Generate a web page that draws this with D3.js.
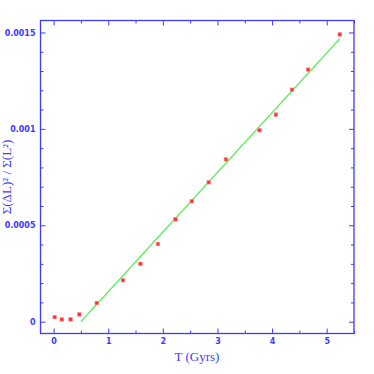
<!DOCTYPE html>
<html>
<head>
<meta charset="utf-8">
<script src="https://cdn.jsdelivr.net/npm/d3@7"></script>
<style>
  body { margin: 0; background: #fff; }
  svg { display: block; }
</style>
</head>
<body>
<svg width="374" height="374"></svg>
<script>
// data
const times = [0.02, 0.15, 0.31, 0.47, 0.79, 1.27, 1.59, 1.91, 2.23, 2.53, 2.84, 3.155, 3.77, 4.07, 4.365, 4.66, 5.24]
const ratios = [0.000024, 0.000012, 0.000012, 0.000038, 0.000097, 0.000215, 0.0003, 0.000403, 0.000531, 0.000625, 0.000723, 0.000842, 0.000993, 0.001074, 0.001203, 0.001307, 0.00149]
const fitT = [0.5, 5.24]
const fitY = [0, 0.001468]
const xTicks = [0, 1, 2, 3, 4, 5]
const yTicks = [0, 0.0005, 0.001, 0.0015]
const yTickLabels = ['0', '0.0005', '0.001', '0.0015']

const svg = d3.select('svg')
const blue = '#3c3cff'

// plot frame edges
const fLeft = 40.5, fRight = 354, fTop = 20.5, fBottom = 333.5

const x = d3.scaleLinear().domain([-0.24, 5.5]).range([fLeft, fRight])
const y = d3.scaleLinear().domain([-0.0000612, 0.001562]).range([fBottom, fTop])

// frame
svg.append('rect')
    .attr('x', fLeft).attr('y', fTop)
    .attr('width', fRight - fLeft).attr('height', fBottom - fTop)
    .attr('fill', 'none').attr('stroke', blue).attr('stroke-width', 1.3)

const xMinor = d3.range(0, 5.51, 0.5).filter(v => xTicks.indexOf(v) < 0)
const yMinor = d3.range(0, 0.00156, 0.0001).filter((v, i) => i % 5 != 0)

// axes with inward ticks, the library draws them
function styleAxis(g) {
    g.select('.domain').remove()
    g.selectAll('line').attr('stroke', blue)
    g.selectAll('text').attr('fill', blue)
        .style('font-family', '"DejaVu Sans", sans-serif')
        .style('font-size', '8px')
        .style('font-weight', 'bold')
}

svg.append('g').attr('transform', `translate(0,${fBottom})`)
    .call(d3.axisBottom(x).tickValues(xTicks).tickSizeInner(-5).tickSizeOuter(0).tickPadding(5)
        .tickFormat(d3.format('d')))
    .call(styleAxis)
svg.append('g').attr('transform', `translate(0,${fBottom})`)
    .call(d3.axisBottom(x).tickValues(xMinor).tickSize(-3).tickFormat(''))
    .call(styleAxis)
svg.append('g').attr('transform', `translate(0,${fTop})`)
    .call(d3.axisTop(x).tickValues(xTicks).tickSize(-5).tickFormat(''))
    .call(styleAxis)
svg.append('g').attr('transform', `translate(0,${fTop})`)
    .call(d3.axisTop(x).tickValues(xMinor).tickSize(-3).tickFormat(''))
    .call(styleAxis)

svg.append('g').attr('transform', `translate(${fLeft},0)`)
    .call(d3.axisLeft(y).tickValues(yTicks).tickSizeInner(-5).tickSizeOuter(0).tickPadding(5)
        .tickFormat((d, i) => yTickLabels[i]))
    .call(styleAxis)
svg.append('g').attr('transform', `translate(${fLeft},0)`)
    .call(d3.axisLeft(y).tickValues(yMinor).tickSize(-3).tickFormat(''))
    .call(styleAxis)
svg.append('g').attr('transform', `translate(${fRight},0)`)
    .call(d3.axisRight(y).tickValues(yTicks).tickSize(-5).tickFormat(''))
    .call(styleAxis)
svg.append('g').attr('transform', `translate(${fRight},0)`)
    .call(d3.axisRight(y).tickValues(yMinor).tickSize(-3).tickFormat(''))
    .call(styleAxis)

// fit line
const line = d3.line().x(d => x(d[0])).y(d => y(d[1]))
svg.append('path')
    .attr('d', line(fitT.map((t, i) => [t, fitY[i]])))
    .attr('stroke', '#44ee44').attr('stroke-width', 1.2).attr('fill', 'none')

// points
svg.append('g').selectAll('rect')
    .data(times.map((t, i) => [t, ratios[i]]))
    .join('rect')
        .attr('x', d => x(d[0]) - 1.8)
        .attr('y', d => y(d[1]) - 1.8)
        .attr('width', 3.6).attr('height', 3.6)
        .attr('fill', '#ff3030')
        .attr('stroke', '#ff9090').attr('stroke-width', 0.6)

// axis titles
svg.append('text')
    .attr('x', 197).attr('y', 361)
    .attr('text-anchor', 'middle')
    .attr('fill', blue)
    .style('font-family', '"Liberation Serif", serif')
    .style('font-size', '13px')
    .text('T (Gyrs)')

svg.append('text')
    .attr('transform', `translate(11,177) rotate(-90)`)
    .attr('text-anchor', 'middle')
    .attr('fill', blue)
    .style('font-family', '"Liberation Serif", serif')
    .style('font-size', '13px')
    .text('Σ(ΔL)² / Σ(L²)')
</script>
</body>
</html>
